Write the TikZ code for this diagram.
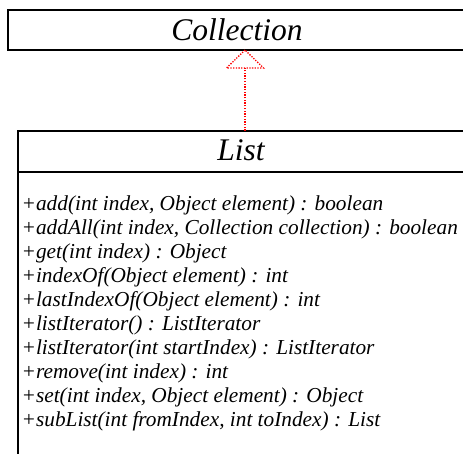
\documentclass[tikz,border=0pt]{standalone}
\usepackage{fontspec}
\setmainfont{Liberation Serif}
\begin{document}
\begin{tikzpicture}[x=1pt,y=-1pt,
  umlbox/.style={draw=black,line width=1.8pt,rectangle,inner sep=0pt,outer sep=0pt},
  classname/.style={font=\fontsize{31.5}{36}\selectfont\itshape,anchor=base},
  member/.style={font=\fontsize{21.3}{24}\selectfont\itshape,anchor=base west,inner sep=0pt},
  realize/.style={draw=red,line width=1.3pt,dash pattern=on 1.3pt off 1.4pt}]
\useasboundingbox (0,0) rectangle (463,453);
\clip (0,0) rectangle (463,453);
% interface box
\node[umlbox,minimum width=474pt,minimum height=40pt] (coll) at (245,30) {};
\node[classname] (colltitle) at (237,40) {Collection};
% class box: header and operations compartment
\node[umlbox,minimum width=454pt,minimum height=41.3pt] (list) at (245,151.35) {};
\node[umlbox,minimum width=454pt,minimum height=300pt,anchor=north] (ops) at (list.south) {};
\node[classname] (listtitle) at (241,160) {List};
\foreach \t [count=\i from 0] in {%
  +add(int index{,} Object element) : boolean,
  +addAll(int index{,} Collection collection) : boolean,
  +get(int index) : Object,
  +indexOf(Object element) : int,
  +lastIndexOf(Object element) : int,
  +listIterator() : ListIterator,
  +listIterator(int startIndex) : ListIterator,
  +remove(int index) : int,
  +set(int index{,} Object element) : Object,
  +subList(int fromIndex{,} int toIndex) : List}
  \node[member] (m\i) at (21.5,210.7+24*\i) {\t};
% realization arrow
\coordinate (tipbase) at (245,68);
\draw[realize] (list.north -| tipbase) -- (tipbase);
\draw[realize] (coll.south) -- (226.5,68) -- (263.5,68) -- cycle;
\end{tikzpicture}
\end{document}
